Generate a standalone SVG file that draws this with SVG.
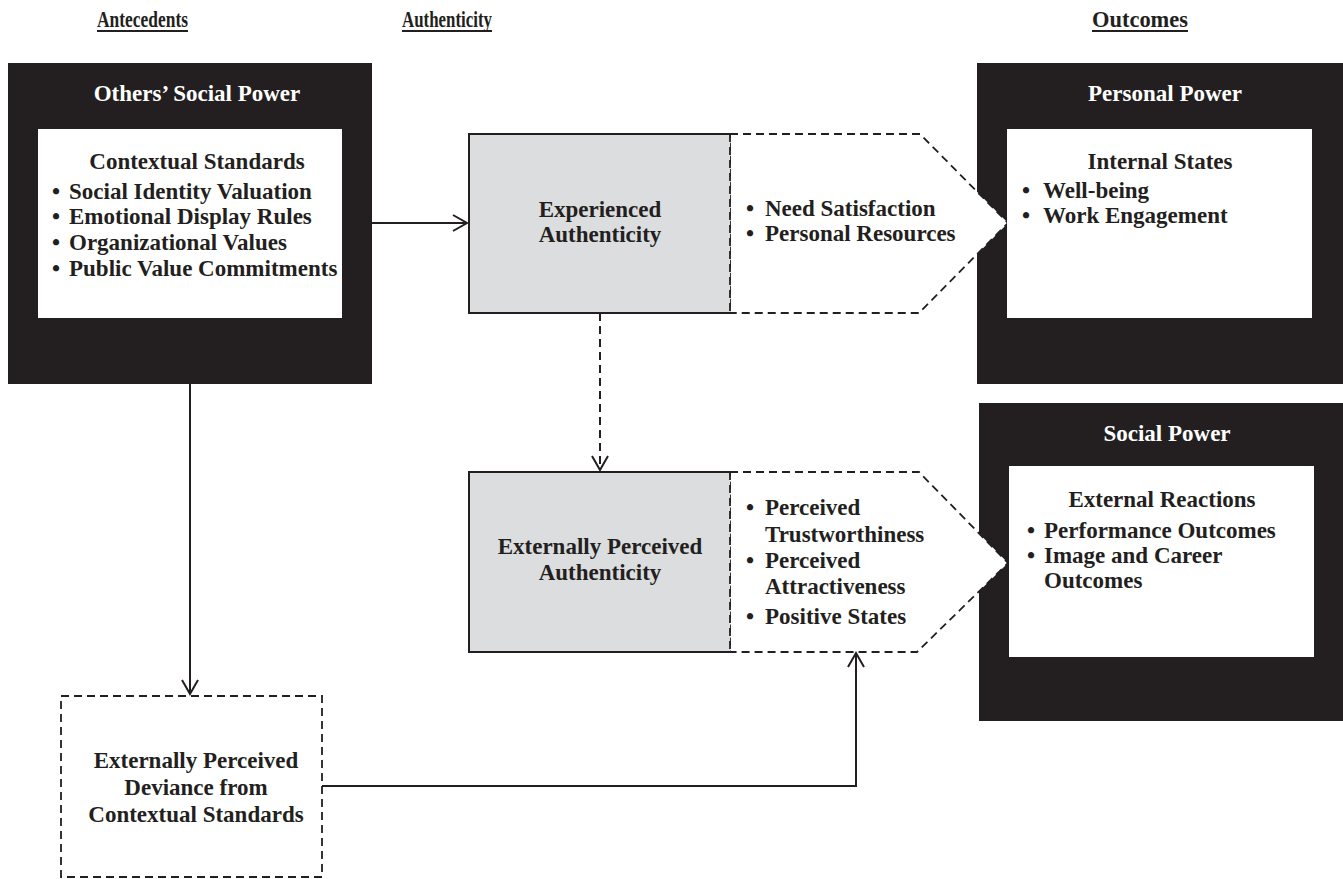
<svg xmlns="http://www.w3.org/2000/svg" width="1343" height="879" viewBox="0 0 1343 879">
<style>
text{font-family:"Liberation Serif","Times New Roman",serif;font-weight:bold;fill:#231f20;font-size:23px}
.w{fill:#ffffff}
.c{text-anchor:middle}
.hd{font-size:23px}
.blk{fill:#231f20}
.inner{fill:#ffffff}
.gray{fill:#dcdddf}
.solid{fill:none;stroke:#231f20;stroke-width:2}
.dash{fill:#ffffff;stroke:#231f20;stroke-width:1.8;stroke-dasharray:8 5}
.conn{fill:none;stroke:#231f20;stroke-width:2}
.dconn{fill:none;stroke:#231f20;stroke-width:2;stroke-dasharray:8 5}
.ul{stroke:#231f20;stroke-width:2.2}
</style>
<defs>
<marker id="arr" markerUnits="userSpaceOnUse" markerWidth="20" markerHeight="20" viewBox="-16 -10 20 20" refX="0" refY="0" orient="auto">
<path d="M-14,-8 L0,0 L-14,8" fill="none" stroke="#231f20" stroke-width="2"/>
</marker>
</defs>
<rect width="1343" height="879" fill="#ffffff"/>
<g id="headers">
<text class="hd" x="97" y="27" textLength="91" lengthAdjust="spacingAndGlyphs">Antecedents</text>
<line class="ul" x1="97" y1="31" x2="188" y2="31"/>
<text class="hd" x="402" y="27" textLength="90" lengthAdjust="spacingAndGlyphs">Authenticity</text>
<line class="ul" x1="402" y1="31" x2="492" y2="31"/>
<text class="hd" x="1092" y="27" textLength="96" lengthAdjust="spacingAndGlyphs">Outcomes</text>
<line class="ul" x1="1092" y1="31" x2="1188" y2="31"/>
</g>
<g id="others-social-power">
<rect class="blk" x="8" y="63" width="364" height="321"/>
<rect class="inner" x="38" y="129" width="304" height="189"/>
<text class="w c" x="197" y="101">Others’ Social Power</text>
<text class="c" x="197" y="169">Contextual Standards</text>
<text x="52" y="199">•<tspan x="69">Social Identity Valuation</tspan></text>
<text x="52" y="224">•<tspan x="69">Emotional Display Rules</tspan></text>
<text x="52" y="250">•<tspan x="69">Organizational Values</tspan></text>
<text x="52" y="276">•<tspan x="69">Public Value Commitments</tspan></text>
</g>
<g id="personal-power">
<rect class="blk" x="977" y="63" width="366" height="321"/>
</g>
<g id="social-power">
<rect class="blk" x="979" y="403" width="364" height="318"/>
</g>
<g id="experienced-authenticity">
<polygon class="dash" points="730,134 920,134 1008,223 919,313 730,313"/>
<rect class="gray" x="469" y="134" width="261" height="179"/>
<path class="solid" d="M730,134 H469 V313 H730"/>
<line x1="730" y1="134" x2="730" y2="313" stroke="#231f20" stroke-width="1.8" stroke-dasharray="8 5"/>
<text class="c" x="600" y="217">Experienced</text>
<text class="c" x="600" y="242">Authenticity</text>
<text x="746" y="216">•<tspan x="765">Need Satisfaction</tspan></text>
<text x="746" y="241">•<tspan x="765">Personal Resources</tspan></text>
</g>
<g id="externally-perceived-authenticity">
<polygon class="dash" points="730,472 919,472 1008,563 917,652 730,652"/>
<rect class="gray" x="469" y="472" width="261" height="180"/>
<path class="solid" d="M730,472 H469 V652 H730"/>
<line x1="730" y1="472" x2="730" y2="652" stroke="#231f20" stroke-width="1.8" stroke-dasharray="8 5"/>
<text class="c" x="600" y="554">Externally Perceived</text>
<text class="c" x="600" y="580">Authenticity</text>
<text x="746" y="515">•<tspan x="765">Perceived</tspan></text>
<text x="765" y="542">Trustworthiness</text>
<text x="746" y="568">•<tspan x="765">Perceived</tspan></text>
<text x="765" y="594">Attractiveness</text>
<text x="746" y="624">•<tspan x="765">Positive States</tspan></text>
</g>
<g id="personal-power-content">
<rect class="inner" x="1007" y="129" width="305" height="189"/>
<text class="w c" x="1165" y="101">Personal Power</text>
<text class="c" x="1160" y="169">Internal States</text>
<text x="1022" y="198">•<tspan x="1043">Well-being</tspan></text>
<text x="1022" y="223">•<tspan x="1043">Work Engagement</tspan></text>
</g>
<g id="social-power-content">
<rect class="inner" x="1009" y="466" width="305" height="191"/>
<text class="w c" x="1167" y="441">Social Power</text>
<text class="c" x="1162" y="507">External Reactions</text>
<text x="1027" y="538">•<tspan x="1044">Performance Outcomes</tspan></text>
<text x="1027" y="563">•<tspan x="1044">Image and Career</tspan></text>
<text x="1044" y="588">Outcomes</text>
</g>
<g id="deviance">
<rect x="61" y="696" width="261" height="181" fill="#ffffff" stroke="#231f20" stroke-width="1.8" stroke-dasharray="8 5"/>
<text class="c" x="196" y="768">Externally Perceived</text>
<text class="c" x="196" y="795">Deviance from</text>
<text class="c" x="196" y="822">Contextual Standards</text>
</g>
<g id="connectors">
<path class="conn" d="M372,223 H467" marker-end="url(#arr)"/>
<path class="dconn" d="M600,313 V470" marker-end="url(#arr)"/>
<path class="conn" d="M190,384 V694" marker-end="url(#arr)"/>
<path class="conn" d="M322,786 H856 V653" marker-end="url(#arr)"/>
</g>
</svg>
